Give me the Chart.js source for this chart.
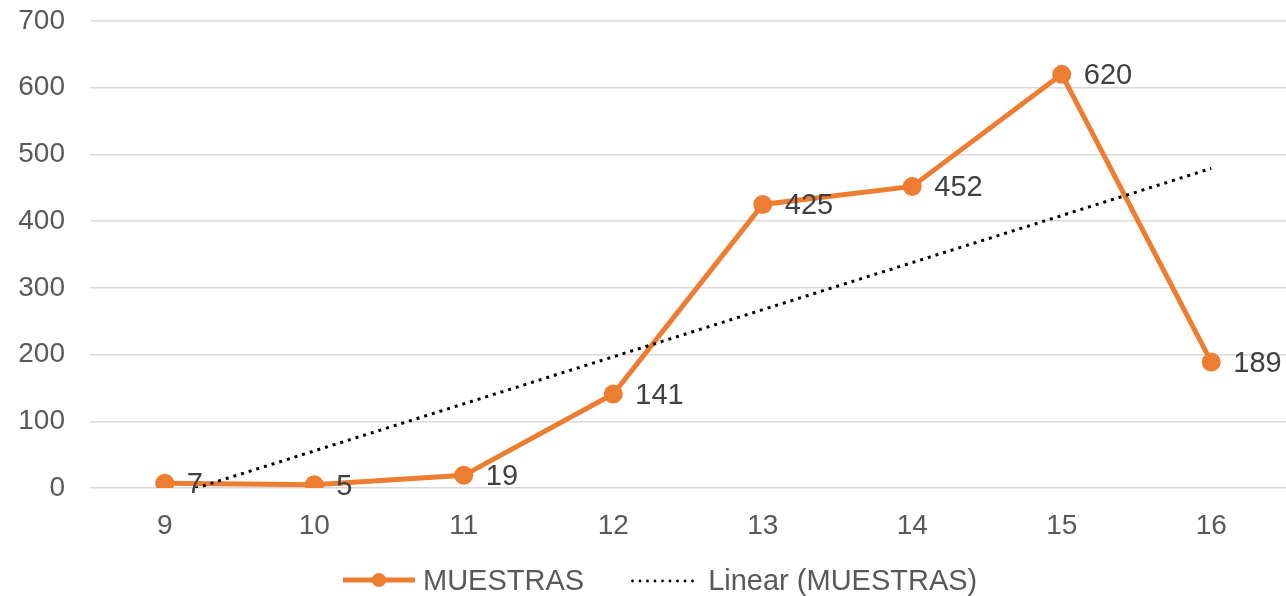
<!DOCTYPE html>
<html>
<head>
<meta charset="utf-8">
<script src="https://cdn.jsdelivr.net/npm/chart.js@4/dist/chart.umd.min.js"></script>
<style>
  html, body { margin: 0; padding: 0; background: #fff; }
  #wrap { position: relative; width: 1286px; height: 596px; }
  #legend {
    position: absolute; left: 343px; top: 562px; height: 36px;
    display: flex; align-items: center;
    font: 29px 'Liberation Sans', Arial, sans-serif; color: #595959;
    white-space: nowrap;
  }
  #legend canvas { display: block; }
</style>
</head>
<body>
<div id="wrap">
  <canvas id="chart"></canvas>
  <div id="legend">
    <canvas id="icon1" width="72" height="20"></canvas>
    <span style="margin-left:8px">MUESTRAS</span>
    <canvas id="icon2" width="67" height="20" style="margin-left:47px"></canvas>
    <span style="margin-left:10px">Linear (MUESTRAS)</span>
  </div>
</div>
<script>
const categories = ["9", "10", "11", "12", "13", "14", "15", "16"];
const muestras = [7, 5, 19, 141, 425, 452, 620, 189];
// trend line: starts below 0 at "9", ends near 479 at "16"
const trendLine = [-15, null, null, null, null, null, null, 479];
const yTicks = [0, 100, 200, 300, 400, 500, 600, 700];

const ORANGE = "#ED7D31";
const TEXT = "#595959";
const FONT = "'Liberation Sans', Arial, sans-serif";

// legend icons
(function drawIcons() {
  let g = document.getElementById("icon1").getContext("2d");
  g.strokeStyle = ORANGE; g.lineWidth = 5;
  g.beginPath(); g.moveTo(0, 10); g.lineTo(72, 10); g.stroke();
  g.fillStyle = ORANGE;
  g.beginPath(); g.arc(36, 10, 7, 0, Math.PI * 2); g.fill();

  g = document.getElementById("icon2").getContext("2d");
  g.fillStyle = "#000";
  for (let x = 1.5; x < 67; x += 7.5) {
    g.beginPath(); g.arc(x, 11, 1.4, 0, Math.PI * 2); g.fill();
  }
})();

// value labels to the right of each point
const valueLabels = {
  id: "valueLabels",
  afterDatasetsDraw(chart) {
    const meta = chart.getDatasetMeta(0);
    const ctx = chart.ctx;
    ctx.save();
    ctx.font = "29px " + FONT;
    ctx.fillStyle = "#404040";
    ctx.textAlign = "left";
    ctx.textBaseline = "alphabetic";
    meta.data.forEach((pt, i) => {
      ctx.fillText(String(muestras[i]), pt.x + 22, pt.y + 10);
    });
    ctx.restore();
  }
};

new Chart(document.getElementById("chart"), {
  type: "line",
  data: {
    labels: categories,
    datasets: [{
      label: "MUESTRAS",
      data: muestras,
      borderColor: ORANGE,
      backgroundColor: ORANGE,
      borderWidth: 5,
      pointRadius: 7,
      pointHoverRadius: 7,
      tension: 0,
      order: 2
    }, {
      label: "Linear (MUESTRAS)",
      data: trendLine,
      spanGaps: true,
      borderColor: "#000",
      borderWidth: 3,
      borderDash: [3, 5],
      pointRadius: 0,
      fill: false,
      order: 1
    }]
  },
  options: {
    responsive: true,
    maintainAspectRatio: false,
    animation: false,
    layout: { autoPadding: false, padding: { top: 21, right: 0, left: 0, bottom: 0 } },
    plugins: {
      tooltip: { enabled: false },
      legend: { display: false }
    },
    scales: {
      x: {
        offset: true,
        grid: { display: false },
        border: { display: false },
        ticks: { color: TEXT, font: { size: 28, family: FONT }, padding: 13 },
        afterFit: (s) => { s.height = 108; s.paddingLeft = 0; s.paddingRight = 0; }
      },
      y: {
        min: 0,
        max: 700,
        afterBuildTicks: (s) => { s.ticks = yTicks.map(v => ({ value: v })); },
        grid: { color: "#D9D9D9", lineWidth: 1.5, drawTicks: false },
        border: { display: false },
        ticks: { color: TEXT, font: { size: 28, family: FONT }, padding: 25 },
        afterFit: (s) => { s.width = 90; s.paddingTop = 0; s.paddingBottom = 0; }
      }
    }
  },
  plugins: [valueLabels]
});
</script>
</body>
</html>
